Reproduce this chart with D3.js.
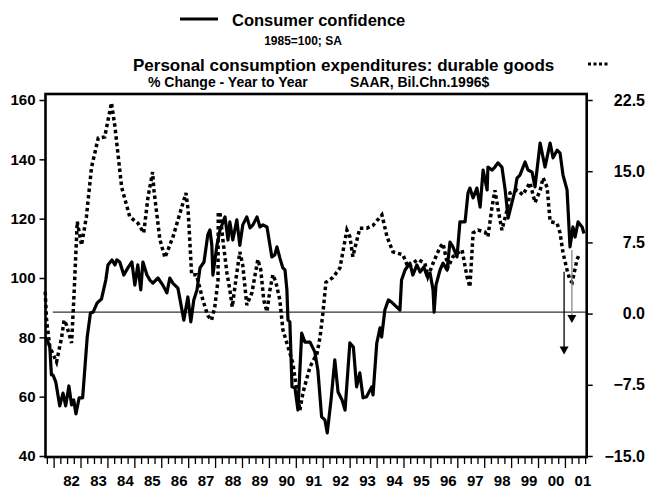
<!DOCTYPE html>
<html>
<head>
<meta charset="utf-8">
<script src="https://cdn.jsdelivr.net/npm/d3@7"></script>
<style>
    body { margin: 0; background: #fff; }
    svg text { font-family: Arial, "Liberation Sans", sans-serif; font-weight: bold; fill: #000; }
</style>
</head>
<body>
<svg id="chart" width="648" height="489"></svg>
<script>
// Consumer confidence, 1985=100 (left axis)
var confDates = [1981.67, 1981.77, 1981.84, 1981.90, 1981.96, 1982.06, 1982.21, 1982.33, 1982.43, 1982.55,
    1982.65, 1982.73, 1982.81, 1982.93, 1983.06, 1983.23, 1983.35, 1983.45, 1983.60, 1983.76,
    1983.92, 1984.00, 1984.15, 1984.26, 1984.33, 1984.44, 1984.59, 1984.74, 1984.89, 1985.00,
    1985.11, 1985.22, 1985.30, 1985.45, 1985.56, 1985.67, 1985.86, 1986.04, 1986.19, 1986.30,
    1986.41, 1986.60, 1986.82, 1986.97, 1987.08, 1987.19, 1987.31, 1987.42, 1987.57, 1987.71,
    1987.79, 1987.86, 1987.90, 1988.05, 1988.16, 1988.35, 1988.46, 1988.53, 1988.64, 1988.79,
    1988.90, 1989.01, 1989.16, 1989.28, 1989.39, 1989.54, 1989.65, 1989.76, 1989.91, 1990.02,
    1990.09, 1990.20, 1990.28, 1990.39, 1990.50, 1990.58, 1990.65, 1990.69, 1990.76, 1990.84,
    1990.95, 1991.06, 1991.20, 1991.32, 1991.51, 1991.69, 1991.80, 1991.94, 1992.06, 1992.15,
    1992.29, 1992.43, 1992.55, 1992.70, 1992.81, 1992.99, 1993.12, 1993.24, 1993.36, 1993.48,
    1993.61, 1993.80, 1993.85, 1993.99, 1994.11, 1994.17, 1994.29, 1994.42, 1994.54, 1994.85,
    1994.91, 1995.04, 1995.22, 1995.33, 1995.48, 1995.60, 1995.74, 1995.86, 1995.97, 1996.08,
    1996.12, 1996.19, 1996.34, 1996.45, 1996.60, 1996.71, 1996.82, 1996.97, 1997.08, 1997.27,
    1997.38, 1997.45, 1997.57, 1997.71, 1997.83, 1997.94, 1998.09, 1998.12, 1998.27, 1998.38,
    1998.49, 1998.64, 1998.76, 1998.87, 1999.01, 1999.13, 1999.20, 1999.31, 1999.50, 1999.61,
    1999.76, 1999.87, 2000.06, 2000.24, 2000.43, 2000.54, 2000.69, 2000.80, 2000.91, 2001.06,
    2001.17, 2001.28, 2001.36, 2001.47, 2001.62, 2001.69];
var confValues = [80.1, 78.5, 76.7, 67.3, 67.3, 65, 56.9, 61.2, 56.9, 63.6,
    57.2, 58.9, 54.2, 59.6, 59.6, 80.1, 88.2, 88.5, 91.6, 92.9,
    99.3, 104.4, 106.1, 104.4, 106.1, 105.4, 101, 103.4, 105.4, 97.6,
    104.4, 96, 105.4, 101, 99.3, 98.3, 100, 97.6, 95, 100,
    98.3, 96.6, 85.8, 93.6, 85.2, 92.6, 96, 103.4, 105.4, 114.5,
    116.2, 111.1, 101, 111, 116, 120.6, 112.8, 118.9, 112.8, 119.6,
    111, 117.9, 120.6, 116.9, 117.9, 120.6, 117.2, 117.9, 117.2, 111,
    107.1, 107.8, 110.5, 106.7, 103.4, 102.7, 96, 85.8, 85.2, 63.3,
    62.9, 55.5, 81.4, 78.4, 78.4, 75, 69, 53.2, 52.2, 47.8,
    58.9, 72.4, 61.6, 58.9, 55.5, 78.1, 76.7, 63.3, 68, 59.6,
    60, 63.3, 60.6, 78.1, 83.2, 80.1, 89.2, 92.6, 91.9, 89.2,
    99.3, 102.7, 105, 101, 104.4, 102, 103.7, 100.5, 101.7, 96,
    88.5, 97.6, 102.7, 105, 102.7, 112.1, 110.5, 107.1, 118.9, 118.9,
    128.7, 130.3, 127, 130.3, 123.9, 136.4, 129.7, 137.4, 136.4, 137.4,
    138.8, 137.4, 129.7, 120.2, 125.3, 129.7, 133.7, 134.7, 139.1, 136.4,
    135.7, 130.7, 145.5, 137.4, 145.5, 140.5, 143.1, 142.1, 134.7, 129.7,
    110.5, 117.2, 113.8, 118.9, 117.2, 115];

// Durable goods PCE, % change year to year (right axis)
var pceDates = [1981.67, 1981.72, 1981.84, 1982.09, 1982.28, 1982.37, 1982.46, 1982.65, 1982.73, 1982.86,
    1983.02, 1983.20, 1983.39, 1983.64, 1983.88, 1984.13, 1984.26, 1984.51, 1984.81, 1985.12,
    1985.33, 1985.49, 1985.66, 1985.71, 1985.93, 1986.12, 1986.42, 1986.74, 1986.90, 1986.98,
    1987.11, 1987.29, 1987.53, 1987.71, 1987.85, 1987.97, 1988.09, 1988.10, 1988.16, 1988.27,
    1988.42, 1988.53, 1988.62, 1988.75, 1988.90, 1989.01, 1989.16, 1989.35, 1989.57, 1989.68,
    1989.79, 1989.91, 1990.02, 1990.13, 1990.24, 1990.39, 1990.50, 1990.69, 1990.87, 1991.02,
    1991.13, 1991.25, 1991.51, 1991.77, 1991.88, 1991.99, 1992.10, 1992.36, 1992.62, 1992.88,
    1992.99, 1993.10, 1993.36, 1993.62, 1993.85, 1994.18, 1994.37, 1994.59, 1994.96, 1995.15,
    1995.33, 1995.52, 1995.78, 1995.89, 1996.08, 1996.34, 1996.45, 1996.64, 1996.82, 1997.16,
    1997.34, 1997.45, 1997.57, 1997.75, 1998.01, 1998.12, 1998.27, 1998.38, 1998.49, 1998.64,
    1998.83, 1998.94, 1999.20, 1999.42, 1999.68, 1999.87, 2000.06, 2000.17, 2000.32, 2000.43,
    2000.69, 2000.80, 2000.91, 2001.06, 2001.17, 2001.25, 2001.43, 2001.51];
var pceValues = [2.3, -0.7, -3.5, -5.1, -2.5, -0.7, -1.2, -3.1, 1.4, 9.7,
    7.2, 10.2, 15.4, 18.5, 18.6, 22.2, 19.7, 13.3, 10.2, 9.5,
    8.5, 12.3, 14.9, 13.0, 7.8, 5.9, 8.1, 11.2, 12.7, 10.9,
    4.1, 4.1, 1.4, -0.2, -0.7, 0.7, 3.5, 10.6, 10.7, 7.8,
    4.3, 2.5, 0.7, 3.5, 6.5, 5.1, 0.9, 2.2, 5.7, 4.6,
    1.4, 0.2, 2.5, 4.1, 3.3, 1.4, -1.7, -3.5, -5.2, -8.1,
    -10.2, -8.3, -5.6, -4.2, -2.5, 0.1, 3.3, 3.8, 4.8, 8.8,
    8.1, 6.0, 9.0, 9.0, 9.3, 10.4, 8.1, 6.5, 6.2, 4.9,
    5.3, 5.7, 5.3, 3.9, 5.3, 7.0, 7.4, 4.9, 6.0, 6.7,
    3.9, 2.8, 8.5, 8.8, 8.6, 8.1, 11.2, 13.0, 11.1, 8.8,
    10.9, 12.7, 13.0, 12.5, 13.8, 11.7, 13.0, 14.3, 13.3, 9.7,
    9.5, 8.5, 6.4, 4.6, 3.5, 3.3, 5.7, 6.2];

var yearLabels = ["82", "83", "84", "85", "86", "87", "88", "89", "90", "91",
    "92", "93", "94", "95", "96", "97", "98", "99", "00", "01"];
var leftTicks = [40, 60, 80, 100, 120, 140, 160];
var rightTicks = [-15, -7.5, 0, 7.5, 15, 22.5];

// forecast arrows: [date, from, to] on the right axis, and colour
var arrowDates = [2000.95, 2001.24];
var arrowFrom = [4.4, 6.7];
var arrowTo = [-4.3, -1.0];
var arrowColors = ["#000", "#888"];

var svg = d3.select("#chart");

// careful: "top" is taken by window.top
var plotL = 45.5, plotR = 586.7, plotT = 94, plotB = 457;

var x = d3.scaleLinear().domain([1981.68, 2001.79]).range([plotL, plotR]);
var yL = d3.scaleLinear().domain([40, 160]).range([456, 100]);
var yR = d3.scaleLinear().domain([-15, 22.5]).range([456, 100]);

// zero line
svg.append("line")
    .attr("x1", x(1981.95)).attr("x2", plotR)
    .attr("y1", yR(0) - 1.5).attr("y2", yR(0) - 1.5)
    .attr("stroke", "#000").attr("stroke-width", 1);

// left axis
var leftAxis = svg.append("g").attr("transform", "translate(" + plotL + ",0)")
    .call(d3.axisLeft(yL).tickValues(leftTicks).tickSize(6).tickPadding(4));
leftAxis.select(".domain").remove();
leftAxis.selectAll("line").attr("stroke-width", 1.5);
leftAxis.selectAll("text").style("font-size", "15px");

// right axis
var rightAxis = svg.append("g").attr("transform", "translate(" + plotR + ",0)")
    .call(d3.axisRight(yR).tickValues(rightTicks).tickSize(6).tickFormat(d3.format(".1f")));
rightAxis.select(".domain").remove();
rightAxis.selectAll("line").attr("stroke-width", 1.5);
rightAxis.selectAll("text")
    .attr("text-anchor", "end")
    .attr("x", 645 - plotR)
    .style("font-size", "16px");

// bottom ticks: years long, quarters short
var quarters = d3.range(1981.75, 2001.76, 0.25);
svg.append("g").selectAll("line")
    .data(quarters)
    .enter().append("line")
    .attr("x1", function (d) { return x(d); })
    .attr("x2", function (d) { return x(d); })
    .attr("y1", plotB)
    .attr("y2", function (d) { return Math.abs(d - Math.round(d)) < 0.01 ? plotB + 11 : plotB + 7; })
    .attr("stroke", "#000").attr("stroke-width", 1.3);

svg.append("g").selectAll("text")
    .data(yearLabels)
    .enter().append("text")
    .attr("x", function (d, i) { return x(1982 + i + 0.5) + 4; })
    .attr("y", 486)
    .attr("text-anchor", "middle")
    .style("font-size", "15px")
    .text(function (d) { return d; });

// frame
svg.append("rect")
    .attr("x", plotL).attr("y", plotT)
    .attr("width", plotR - plotL).attr("height", plotB - plotT)
    .attr("fill", "none").attr("stroke", "#000").attr("stroke-width", 2.6);

var confData = confDates.map(function (d, i) { return [d, confValues[i]]; });
var pceData = pceDates.map(function (d, i) { return [d, pceValues[i]]; });

var confLine = d3.line()
    .x(function (d) { return x(d[0]); })
    .y(function (d) { return yL(d[1]); });
var pceLine = d3.line()
    .x(function (d) { return x(d[0]); })
    .y(function (d) { return yR(d[1]); });

svg.append("path").attr("d", pceLine(pceData))
    .attr("fill", "none").attr("stroke", "#000")
    .attr("stroke-width", 3.5).attr("stroke-dasharray", "3.5,3");

svg.append("path").attr("d", confLine(confData))
    .attr("fill", "none").attr("stroke", "#000")
    .attr("stroke-width", 3.2).attr("stroke-linejoin", "round");

// arrows
for (var i = 0; i < arrowDates.length; i++) {
    var ax = x(arrowDates[i]);
    var tip = yR(arrowTo[i]);
    svg.append("line")
        .attr("x1", ax).attr("x2", ax)
        .attr("y1", yR(arrowFrom[i])).attr("y2", tip - 6)
        .attr("stroke", arrowColors[i]).attr("stroke-width", 1.3);
    svg.append("path")
        .attr("d", "M" + (ax - 4.5) + "," + (tip - 8) + "L" + (ax + 4.5) + "," + (tip - 8) + "L" + ax + "," + tip + "Z")
        .attr("fill", "#000");
}

// legend / titles
svg.append("line").attr("x1", 180).attr("x2", 218).attr("y1", 19).attr("y2", 19)
    .attr("stroke", "#000").attr("stroke-width", 3);
svg.append("text").attr("x", 232).attr("y", 26).style("font-size", "16.5px").text("Consumer confidence");
svg.append("text").attr("x", 303).attr("y", 45).attr("text-anchor", "middle").style("font-size", "12px").text("1985=100; SA");

svg.append("text").attr("x", 133).attr("y", 71).style("font-size", "17px").text("Personal consumption expenditures: durable goods");
svg.append("line").attr("x1", 588).attr("x2", 610).attr("y1", 64).attr("y2", 64)
    .attr("stroke", "#000").attr("stroke-width", 3).attr("stroke-dasharray", "3,2.5");
svg.append("text").attr("x", 148).attr("y", 87).style("font-size", "14px").text("% Change - Year to Year");
svg.append("text").attr("x", 350).attr("y", 87).style("font-size", "14px").text("SAAR, Bil.Chn.1996$");
</script>
</body>
</html>
